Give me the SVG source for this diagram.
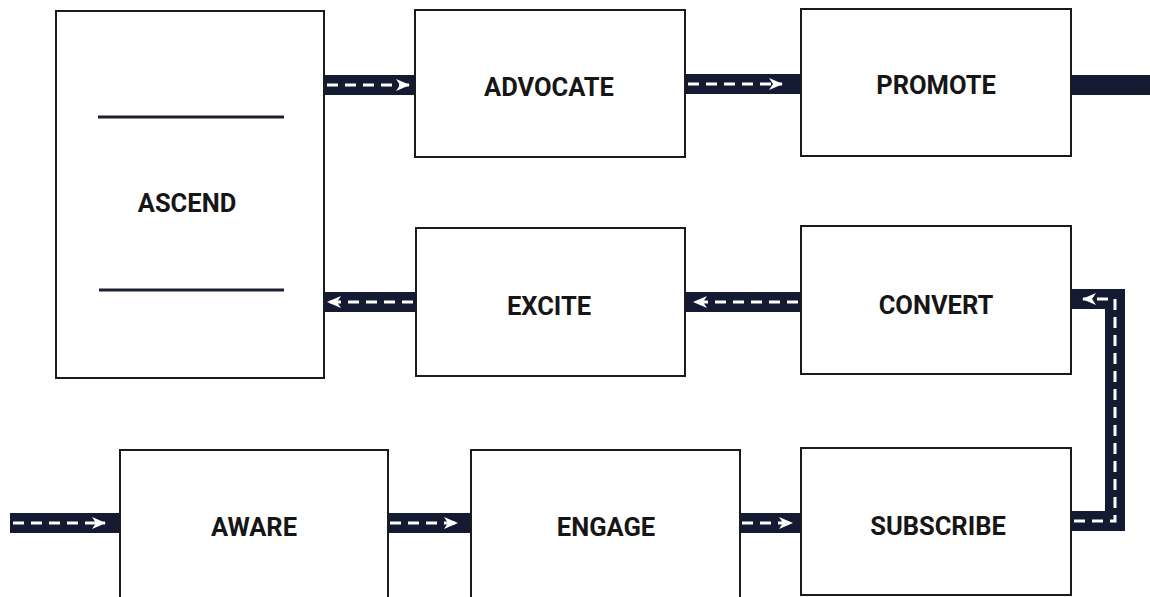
<svg xmlns="http://www.w3.org/2000/svg" width="1150" height="597" viewBox="0 0 1150 597">
  <style>
    .box { fill: #ffffff; stroke: #1b1b1f; stroke-width: 2; }
    .label { font-family: Roboto, "Liberation Sans", sans-serif; font-weight: 700; font-size: 25.5px; fill: #161616; text-anchor: middle; dominant-baseline: central; }
    .road { fill: none; stroke: #141a32; stroke-width: 20; stroke-linejoin: miter; }
    .lane { fill: none; stroke: #ffffff; stroke-width: 3; stroke-dasharray: 11 7; marker-end: url(#head); }
    .rule { stroke: #1c2035; stroke-width: 3; }
  </style>
  <defs>
    <marker id="head" markerUnits="userSpaceOnUse" markerWidth="16" markerHeight="14" refX="14" refY="7" orient="auto" viewBox="0 0 16 14">
      <path d="M1,1 L15,7 L1,13 L5,7 z" fill="#ffffff"/>
    </marker>
  </defs>
  <rect width="1150" height="597" fill="#ffffff"/>

  <!-- connectors -->
  <g id="connectors">
    <path class="road" d="M324,85 H416"/>
    <path class="lane" d="M327,85 H409"/>

    <path class="road" d="M685,84 H802"/>
    <path class="lane" d="M688,84 H782"/>

    <path class="road" d="M1071,85 H1150"/>

    <path class="road" d="M685,302 H802"/>
    <path class="lane" d="M798,302 H694"/>

    <path class="road" d="M323,302 H417"/>
    <path class="lane" d="M413,302 H328"/>

    <path class="road" d="M10,523 H121"/>
    <path class="lane" d="M13,523 H105"/>

    <path class="road" d="M387,523 H472"/>
    <path class="lane" d="M390,523 H457"/>

    <path class="road" d="M739,523 H802"/>
    <path class="lane" d="M742,523 H792"/>

    <path class="road" d="M1070,521 H1115 V299 H1070"/>
    <path class="lane" d="M1074,521 H1115 V299 H1083"/>
  </g>

  <!-- nodes -->
  <g id="ascend">
    <rect class="box" x="56" y="11" width="268" height="367"/>
    <line class="rule" x1="98" y1="117" x2="284" y2="117"/>
    <line class="rule" x1="99" y1="290" x2="284" y2="290"/>
    <text class="label" x="187" y="203">ASCEND</text>
  </g>
  <g id="advocate">
    <rect class="box" x="415" y="10" width="270" height="147"/>
    <text class="label" x="549" y="87">ADVOCATE</text>
  </g>
  <g id="promote">
    <rect class="box" x="801" y="9" width="270" height="147"/>
    <text class="label" x="936" y="85">PROMOTE</text>
  </g>
  <g id="excite">
    <rect class="box" x="416" y="228" width="269" height="148"/>
    <text class="label" x="549" y="306">EXCITE</text>
  </g>
  <g id="convert">
    <rect class="box" x="801" y="226" width="270" height="148"/>
    <text class="label" x="936" y="305">CONVERT</text>
  </g>
  <g id="aware">
    <rect class="box" x="120" y="450" width="268" height="150"/>
    <text class="label" x="254" y="527">AWARE</text>
  </g>
  <g id="engage">
    <rect class="box" x="471" y="450" width="269" height="150"/>
    <text class="label" x="606" y="527">ENGAGE</text>
  </g>
  <g id="subscribe">
    <rect class="box" x="801" y="448" width="270" height="147"/>
    <text class="label" x="938" y="526">SUBSCRIBE</text>
  </g>
</svg>
